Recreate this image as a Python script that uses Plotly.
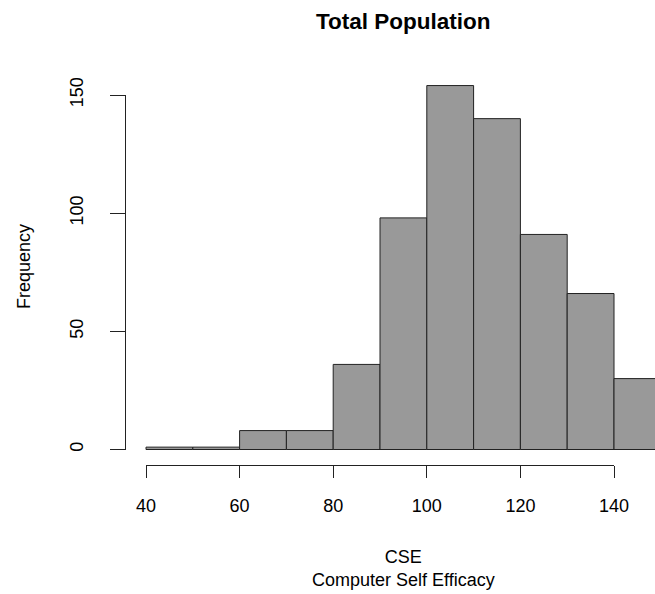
import plotly.graph_objects as go

# Data
bin_edges = [40, 50, 60, 70, 80, 90, 100, 110, 120, 130, 140, 150]
counts = [1, 1, 8, 8, 36, 98, 154, 140, 91, 66, 30]
x_ticks = [40, 60, 80, 100, 120, 140]
y_ticks = [0, 50, 100, 150]
title_text = "Total Population"
x_title = "CSE<br>Computer Self Efficacy"
y_title = "Frequency"

W, H = 655, 594
mids = [(a + b) / 2 for a, b in zip(bin_edges[:-1], bin_edges[1:])]
widths = [b - a for a, b in zip(bin_edges[:-1], bin_edges[1:])]

# pixel geometry of the reference
px_x40, px_x140 = 146, 614
ppu_x = (px_x140 - px_x40) / 100.0
px_y0, px_y150 = 449.5, 95
ppu_y = (px_y0 - px_y150) / 150.0

x_lo = 40 - px_x40 / ppu_x
x_hi = 40 + (W - px_x40) / ppu_x
y_hi = px_y0 / ppu_y
y_lo = -(H - px_y0) / ppu_y

FONT = "Liberation Sans, Arial, Helvetica, sans-serif"

fig = go.Figure()
fig.add_trace(go.Bar(
    x=mids, y=counts, width=widths,
    marker=dict(color="#999999", line=dict(color="#222222", width=1)),
    hoverinfo="skip", showlegend=False,
))
fig.add_trace(go.Scatter(x=[None], y=[None], xaxis="x2", yaxis="y2",
                         showlegend=False, hoverinfo="skip"))

fig.update_layout(
    width=W, height=H,
    margin=dict(l=0, r=0, t=0, b=0),
    paper_bgcolor="white", plot_bgcolor="rgba(0,0,0,0)",
    font=dict(family=FONT, color="black", size=18),
    bargap=0,
    xaxis=dict(domain=[0, 1], range=[x_lo, x_hi], visible=False, fixedrange=True),
    yaxis=dict(domain=[0, 1], range=[y_lo, y_hi], visible=False, fixedrange=True),
    xaxis2=dict(
        domain=[px_x40 / W, px_x140 / W], range=[40, 140],
        anchor="free", position=(H - 465) / H,
        showline=True, linecolor="#222222", linewidth=1,
        ticks="outside", ticklen=12, tickwidth=1, tickcolor="#222222",
        tickvals=x_ticks, ticktext=[str(v) for v in x_ticks],
        tickfont=dict(size=18, family=FONT, color="black"),
        ticklabelstandoff=12,
        showgrid=False, zeroline=False, automargin=False, fixedrange=True,
    ),
    yaxis2=dict(
        domain=[(H - px_y0) / H, (H - px_y150) / H], range=[0, 150],
        anchor="free", position=125 / W,
        showline=True, linecolor="#222222", linewidth=1,
        ticks="outside", ticklen=15, tickwidth=1, tickcolor="#222222",
        tickvals=y_ticks, ticktext=[str(v) for v in y_ticks],
        tickangle=-90,
        tickfont=dict(size=18, family=FONT, color="black"),
        ticklabelstandoff=20,
        showgrid=False, zeroline=False, automargin=False, fixedrange=True,
    ),
    annotations=[
        dict(text="<b>" + title_text + "</b>", x=403 / W, y=1 - 21 / H,
             xref="paper", yref="paper", showarrow=False,
             xanchor="center", yanchor="middle",
             font=dict(size=22.5, family=FONT, color="black")),
        dict(text=x_title, x=403 / W, y=1 - 568 / H,
             xref="paper", yref="paper", showarrow=False,
             xanchor="center", yanchor="middle",
             font=dict(size=18, family=FONT, color="black")),
        dict(text=y_title, x=24 / W, y=1 - 267 / H, textangle=-90,
             xref="paper", yref="paper", showarrow=False,
             xanchor="center", yanchor="middle",
             font=dict(size=18, family=FONT, color="black")),
    ],
)

fig.write_html(
    "out.html",
    config={"displayModeBar": False, "staticPlot": True},
    post_script="document.body.style.margin='0';document.body.style.overflow='hidden';",
)
